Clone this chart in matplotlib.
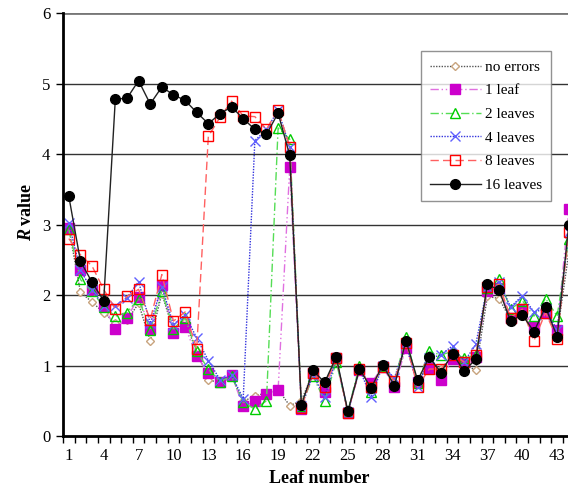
import matplotlib
matplotlib.use("Agg")
import matplotlib.pyplot as plt
import numpy as np

leaf = list(range(1, 45))
tick_labels = [1, 4, 7, 10, 13, 16, 19, 22, 25, 28, 31, 34, 37, 40, 43]

no_errors = [2.95, 2.04, 1.90, 1.75, 1.60, 1.64, 1.88, 1.35, 2.02, 1.49, 1.62, 1.20,
             0.80, 0.75, 0.84, 0.49, 0.57, 0.61, 0.66, 0.43, 0.50, 0.90, 0.72, 1.10,
             0.34, 0.95, 0.70, 1.00, 0.72, 1.30, 0.75, 1.05, 0.95, 1.12, 1.00, 0.94,
             1.98, 1.95, 1.65, 1.75, 1.50, 1.75, 1.45, 2.60]
one_leaf = [2.95, 2.35, 2.07, 1.85, 1.52, 1.67, 1.97, 1.52, 2.14, 1.46, 1.55, 1.13,
            0.90, 0.76, 0.86, 0.42, 0.49, 0.60, 0.65, 3.81, 0.38, 0.90, 0.62, 1.10,
            0.33, 0.93, 0.75, 0.98, 0.70, 1.25, 0.76, 0.96, 0.79, 1.09, 1.05, 1.12,
            2.05, 2.10, 1.68, 1.80, 1.55, 1.75, 1.50, 3.22]
two_leaves = [2.93, 2.22, 2.05, 1.83, 1.70, 1.75, 1.95, 1.50, 2.05, 1.52, 1.68, 1.20,
              0.95, 0.77, 0.85, 0.48, 0.38, 0.50, 4.37, 4.21, 0.42, 0.85, 0.50, 1.05,
              0.35, 1.00, 0.63, 1.00, 0.78, 1.40, 0.75, 1.20, 1.15, 1.20, 1.10, 1.15,
              2.10, 2.22, 1.80, 1.92, 1.70, 1.95, 1.70, 2.80]
four_leaves = [3.02, 2.35, 2.07, 1.85, 1.85, 1.96, 2.19, 1.60, 2.12, 1.58, 1.72, 1.39,
               1.07, 0.80, 0.86, 0.53, 4.19, 4.35, 4.62, 4.10, 0.42, 0.87, 0.55, 1.10,
               0.34, 0.95, 0.55, 1.00, 0.82, 1.32, 0.70, 1.10, 1.15, 1.28, 1.05, 1.30,
               2.12, 2.18, 1.83, 1.99, 1.76, 1.80, 1.50, 2.90]
eight_leaves = [2.80, 2.57, 2.41, 2.08, 1.80, 1.98, 2.08, 1.65, 2.29, 1.63, 1.76, 1.24,
                4.25, 4.52, 4.75, 4.54, 4.53, 4.35, 4.63, 4.10, 0.40, 0.90, 0.70, 1.10,
                0.33, 0.95, 0.70, 0.98, 0.78, 1.32, 0.70, 0.95, 0.95, 1.15, 1.05, 1.15,
                2.12, 2.15, 1.68, 1.80, 1.35, 1.75, 1.38, 2.90]
sixteen_leaves = [3.40, 2.48, 2.18, 1.92, 4.78, 4.79, 5.04, 4.71, 4.95, 4.84, 4.76, 4.59,
                  4.43, 4.57, 4.67, 4.50, 4.35, 4.28, 4.58, 3.98, 0.44, 0.93, 0.76, 1.12,
                  0.35, 0.95, 0.68, 1.01, 0.71, 1.35, 0.79, 1.12, 0.90, 1.17, 0.92, 1.09,
                  2.15, 2.07, 1.63, 1.72, 1.48, 1.83, 1.41, 3.00]

serif = ["Liberation Serif", "DejaVu Serif"]
plt.rcParams["font.family"] = serif

fig = plt.figure(figsize=(5.68, 4.95), dpi=100)
ax = fig.add_axes([63/568, 1-436/495, (574.6-63)/568, (436-13)/495])

series = [
    ("no errors", no_errors, dict(color="#555555", ls=(0, (1, 1)), lw=1.0, marker="D",
                                  ms=4, mfc="white", mec="#c8a47e", mew=1.0)),
    ("1 leaf", one_leaf, dict(color="#e070e0", ls=(0, (6, 2, 1, 2, 1, 2)), lw=1.0, marker="s",
                              ms=6.5, mfc="#cc00cc", mec="#cc00cc", mew=1.0)),
    ("2 leaves", two_leaves, dict(color="#55dd55", ls=(0, (6, 2, 1, 2)), lw=1.0, marker="^",
                                  ms=6.5, mfc="none", mec="#00cc00", mew=1.0)),
    ("4 leaves", four_leaves, dict(color="#3333dd", ls=(0, (1, 1)), lw=1.0, marker="x",
                                   ms=6.5, mec="#6060ff", mew=1.0)),
    ("8 leaves", eight_leaves, dict(color="#ff6060", ls=(0, (6, 3)), lw=1.0, marker="s",
                                    ms=7, mfc="none", mec="#ff0000", mew=1.0)),
    ("16 leaves", sixteen_leaves, dict(color="#222222", ls="-", lw=1.0, marker="o",
                                       ms=7, mfc="black", mec="black", mew=1.0)),
]

for name, vals, kw in series:
    ax.plot(leaf, vals, label=name, clip_on=True, **kw)

ax.set_xlim(0.5, 44.5)
ax.set_ylim(0, 6)
ax.set_yticks(range(0, 7))
for y in range(1, 7):
    ax.axhline(y, color="#333333" if y < 6 else "#777777", lw=1.0 if y < 6 else 2.0, zorder=0)

ax.set_xticks(tick_labels)
ax.set_xticklabels([str(t) for t in tick_labels], fontsize=12)
ax.set_xticks(np.arange(0.5, 45, 1), minor=True)
ax.tick_params(axis="x", which="major", length=0, pad=9)
ax.tick_params(axis="x", which="minor", length=5, width=1, direction="out", color="black")
ax.tick_params(axis="y", length=5, width=1, direction="out", labelsize=12, pad=4)

for s in ["top", "right"]:
    ax.spines[s].set_visible(False)
ax.spines["left"].set_linewidth(2.0)
ax.spines["bottom"].set_linewidth(2.0)

ax.set_xlabel("Leaf number", fontsize=13, fontweight="bold", labelpad=4)

ax.annotate("value", xy=(-0.072, 0.5), xycoords="axes fraction", rotation=90,
            ha="center", va="bottom", fontsize=13, fontweight="bold")
ax.annotate("R ", xy=(-0.072, 0.5), xycoords="axes fraction", rotation=90,
            ha="center", va="top", fontsize=13, fontweight="bold", fontstyle="italic")

leg = ax.legend(loc="upper left", bbox_to_anchor=((421-63)/511.6, 1-(51-13)/423),
                borderaxespad=0, fontsize=11, frameon=True, fancybox=False,
                edgecolor="#777777", handlelength=3.3, borderpad=0.6,
                labelspacing=0.65, handletextpad=0.3)
leg.get_frame().set_linewidth(1.0)

fig.savefig("out.png", dpi=100)
